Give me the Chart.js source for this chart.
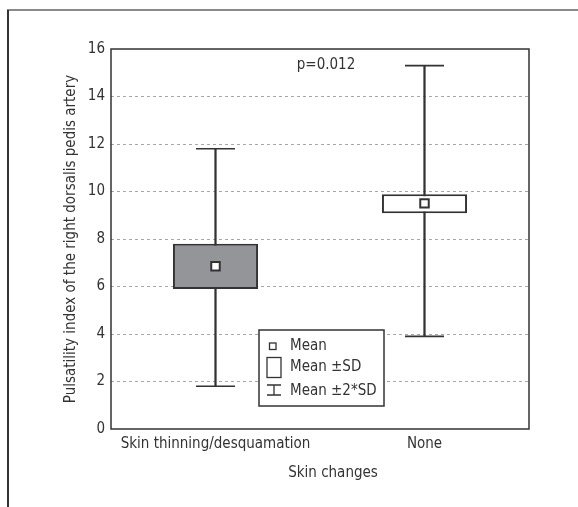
<!DOCTYPE html>
<html><head><meta charset="utf-8">
<script src="https://cdn.jsdelivr.net/npm/chart.js@4/dist/chart.umd.min.js"></script>
<style>html,body{margin:0;padding:0;background:#fff}#wrap{width:578px;height:507px;position:relative}</style>
</head><body><div id="wrap"><canvas id="c" width="578" height="507"></canvas></div>
<script>
const categories = ['Skin thinning/desquamation', 'None'];
const means = [6.85, 9.5];
const sdLow = [5.9, 9.08];
const sdHigh = [7.8, 9.88];
const sd2Low = [1.8, 3.9];
const sd2High = [11.8, 15.3];
const yMin = 0, yMax = 16, yStep = 2;
const pText = 'p=0.012';
const xTitle = 'Skin changes';
const yTitle = 'Pulsatility index of the right dorsalis pedis artery';
const legendItems = ['Mean', 'Mean \u00B1SD', 'Mean \u00B12*SD'];

const FONT = "'Liberation Sans Narrow', 'DejaVu Sans Condensed', 'Arial Narrow', sans-serif";
const FS = 15;
const INK = '#333333';

const capPoints = [];
categories.forEach((c, i) => { capPoints.push({x: c, y: sd2Low[i]}); capPoints.push({x: c, y: sd2High[i]}); });
const meanPoints = categories.map((c, i) => ({x: c, y: means[i]}));

const decor = {
  id: 'decor',
  beforeDraw(chart) {
    const ctx = chart.ctx;
    ctx.save();
    ctx.fillStyle = '#fff';
    ctx.fillRect(0, 0, chart.width, chart.height);
    ctx.strokeStyle = '#8a8a8a';
    ctx.lineWidth = 2;
    ctx.beginPath(); ctx.moveTo(7, 10); ctx.lineTo(578, 10); ctx.stroke();
    ctx.strokeStyle = '#333';
    ctx.beginPath(); ctx.moveTo(8, 10); ctx.lineTo(8, 507); ctx.stroke();
    ctx.restore();
  },
  afterDraw(chart) {
    const ctx = chart.ctx, a = chart.chartArea;
    ctx.save();
    ctx.strokeStyle = INK;
    ctx.lineWidth = 1.5;
    ctx.strokeRect(a.left, a.top, a.right - a.left, a.bottom - a.top);
    ctx.fillStyle = INK;
    ctx.font = FS + 'px ' + FONT;
    ctx.textAlign = 'center';
    ctx.textBaseline = 'middle';
    ctx.fillText(pText, 326, 65);
    ctx.fillText(xTitle, 333, 473);
    // legend box
    const lx = 259, ly = 330, lw = 125, lh = 76;
    ctx.fillStyle = '#fff';
    ctx.fillRect(lx, ly, lw, lh);
    ctx.strokeRect(lx, ly, lw, lh);
    ctx.lineWidth = 1.3;
    ctx.strokeRect(269.5, 343, 6.5, 6.5);
    ctx.strokeRect(267, 357.5, 14, 20);
    ctx.beginPath();
    ctx.moveTo(267, 385); ctx.lineTo(281, 385);
    ctx.moveTo(274, 385); ctx.lineTo(274, 395);
    ctx.moveTo(267, 395); ctx.lineTo(281, 395);
    ctx.stroke();
    ctx.fillStyle = INK;
    ctx.textAlign = 'left';
    ctx.fillText(legendItems[0], 290, 346);
    ctx.fillText(legendItems[1], 290, 367);
    ctx.fillText(legendItems[2], 290, 391);
    ctx.restore();
  }
};

new Chart(document.getElementById('c'), {
  type: 'bar',
  data: {
    labels: categories,
    datasets: [
      {
        type: 'line', label: 'Mean', data: meanPoints, showLine: false, order: 1,
        pointStyle: 'rect', pointRadius: 6, pointBackgroundColor: '#fff',
        pointBorderColor: INK, pointBorderWidth: 2, pointHoverRadius: 6
      },
      {
        type: 'line', label: 'Caps', data: capPoints, showLine: false, order: 2,
        pointStyle: 'line', pointRadius: 19.5, pointBorderColor: INK, pointBorderWidth: 1.6,
        pointHoverRadius: 19.5
      },
      {
        type: 'bar', label: 'Mean \u00B1SD', order: 3, grouped: false,
        data: categories.map((c, i) => [sdLow[i], sdHigh[i]]),
        backgroundColor: ['#939598', '#ffffff'], borderColor: INK, borderWidth: 2,
        borderSkipped: false, barPercentage: 0.407, categoryPercentage: 1
      },
      {
        type: 'bar', label: 'Mean \u00B12*SD', order: 4, grouped: false,
        data: categories.map((c, i) => [sd2Low[i], sd2High[i]]),
        backgroundColor: INK, borderWidth: 0, barThickness: 1.6
      }
    ]
  },
  plugins: [decor],
  options: {
    responsive: false,
    animation: false,
    events: [],
    layout: { padding: { left: 58, right: 49, top: 49, bottom: 0 } },
    plugins: { legend: { display: false }, tooltip: { enabled: false } },
    scales: {
      x: {
        type: 'category', offset: true,
        grid: { display: false, drawTicks: false },
        border: { display: false },
        ticks: { color: INK, font: { family: FONT, size: FS }, padding: 6, maxRotation: 0, autoSkip: false },
        afterFit(s) { s.height = 78; }
      },
      y: {
        min: yMin, max: yMax,
        grid: {
          drawTicks: false, lineWidth: 1,
          color: c => (c.tick && (c.tick.value === yMin || c.tick.value === yMax)) ? 'rgba(0,0,0,0)' : '#a8a8a8'
        },
        border: { display: false, dash: [3, 3] },
        ticks: { stepSize: yStep, color: INK, font: { family: FONT, size: FS }, padding: 6 },
        title: { display: true, text: yTitle, color: INK, font: { family: FONT, size: FS }, padding: { top: 4, bottom: 4 } },
        afterFit(s) { s.width = 53; }
      }
    }
  }
});
</script></body></html>
